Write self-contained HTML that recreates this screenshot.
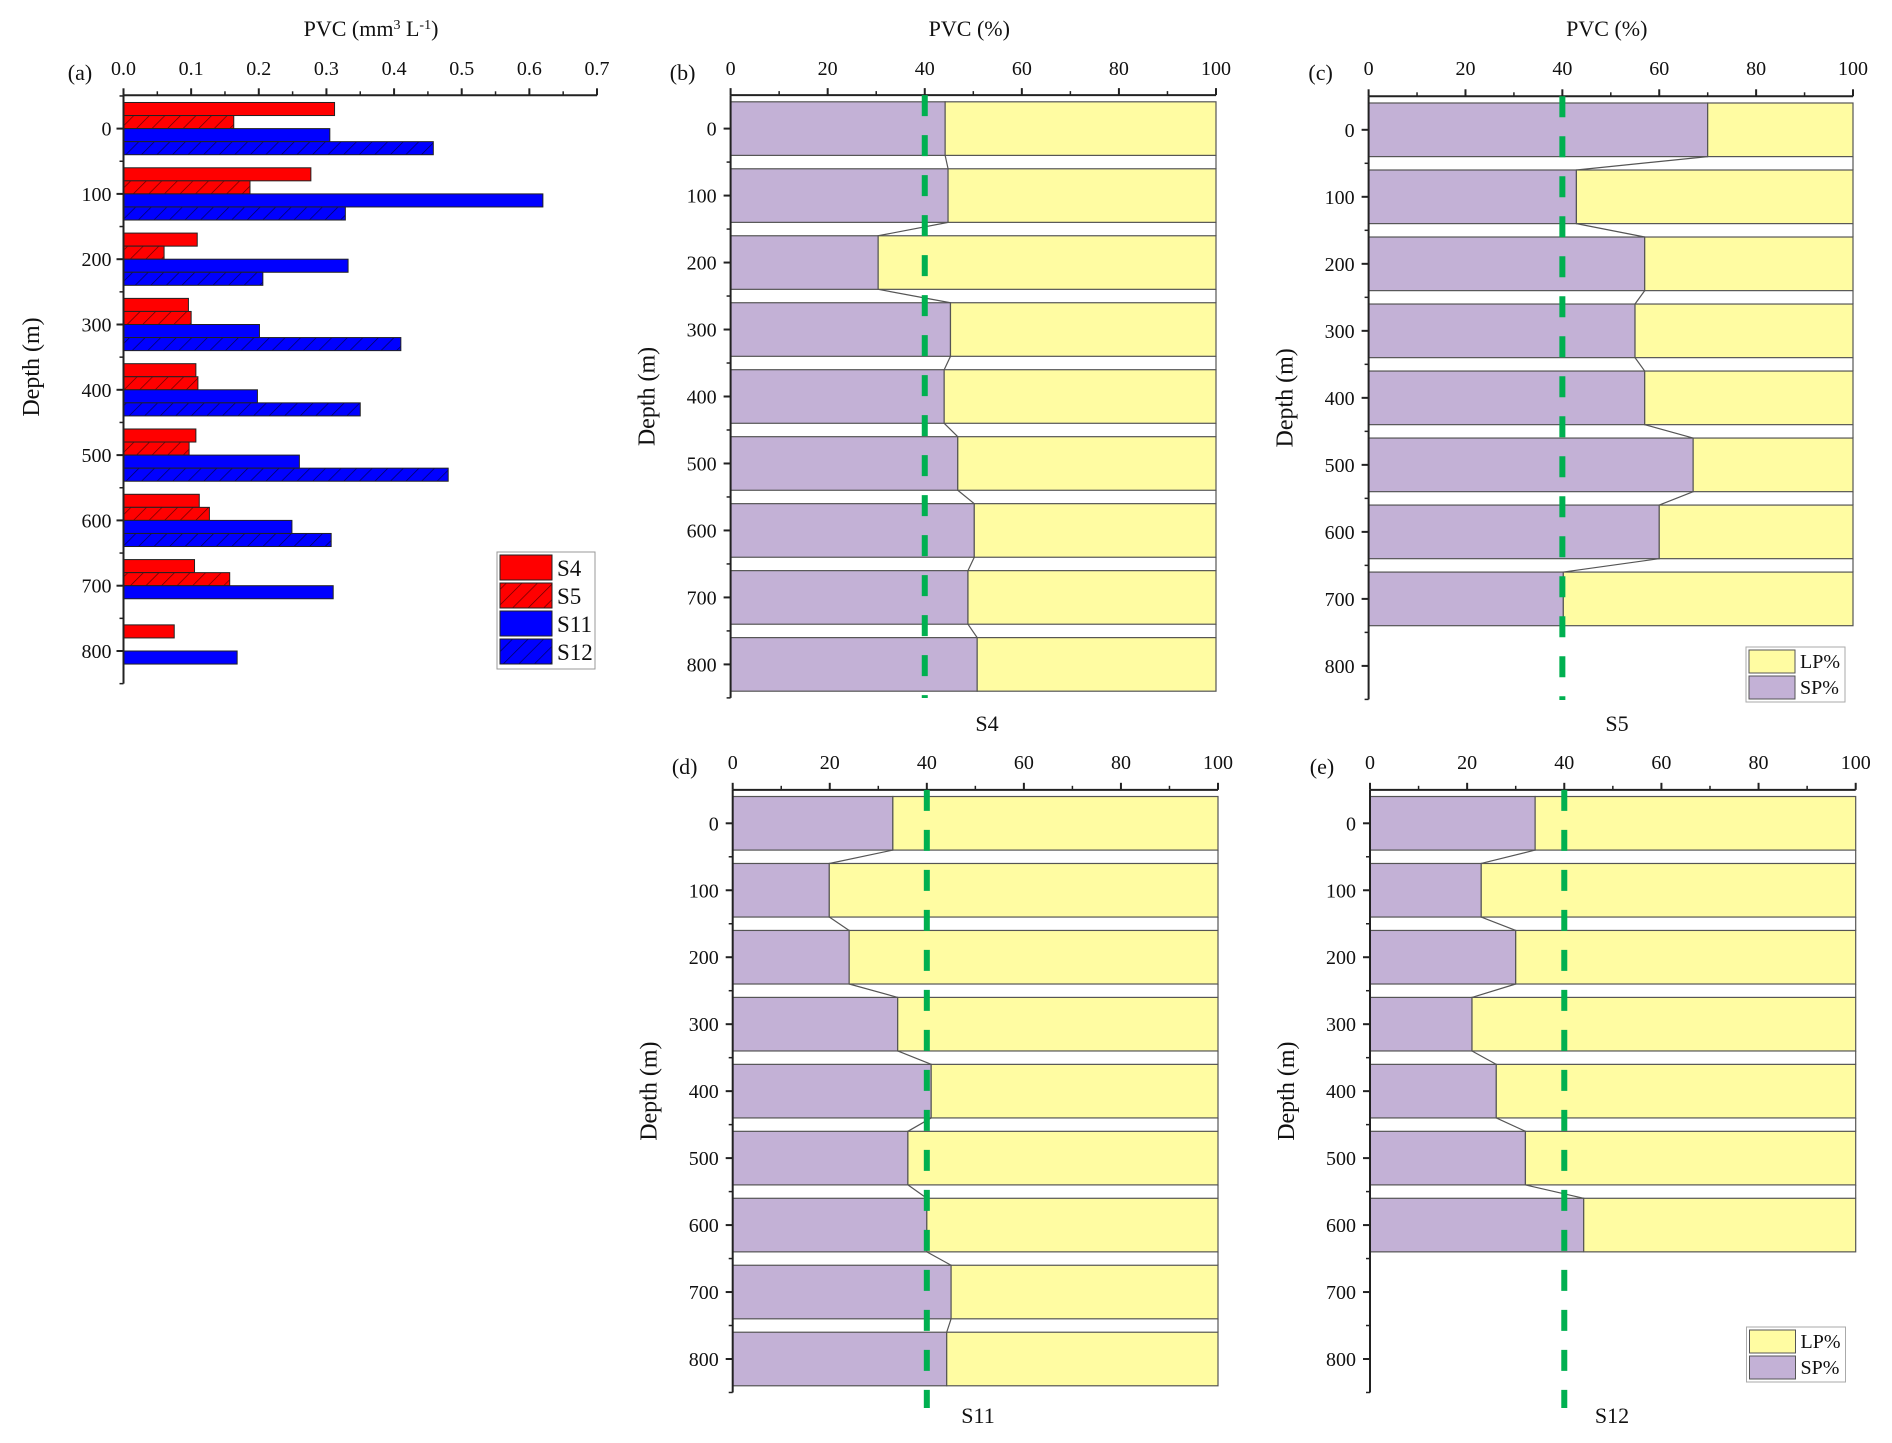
<!DOCTYPE html>
<html><head><meta charset="utf-8">
<style>
html,body{margin:0;padding:0;background:#fff;}
svg{display:block;font-family:"Liberation Serif",serif;}
</style></head>
<body>
<svg id="fig" width="1892" height="1443" viewBox="0 0 1892 1443" xmlns="http://www.w3.org/2000/svg">
<defs>
<pattern id="hatchR" patternUnits="userSpaceOnUse" width="11" height="11" patternTransform="rotate(45)">
<rect width="11" height="11" fill="#ff0000"/><line x1="0" y1="0" x2="0" y2="11" stroke="#5a0000" stroke-width="1.3"/></pattern>
<pattern id="hatchB" patternUnits="userSpaceOnUse" width="11" height="11" patternTransform="rotate(45)">
<rect width="11" height="11" fill="#0000ff"/><line x1="0" y1="0" x2="0" y2="11" stroke="#000050" stroke-width="1.3"/></pattern>
</defs>
</svg>
<script>
// ---- Panel (a) data ----
const depthsA = [0,100,200,300,400,500,600,700,800];
const seriesNamesA = ["S4","S5","S11","S12"];
const valS4 = [0.312,0.277,0.109,0.096,0.107,0.107,0.112,0.105,0.075];
const valS5 = [0.163,0.187,0.060,0.100,0.110,0.097,0.127,0.157,null];
const valS11 = [0.305,0.620,0.332,0.201,0.198,0.260,0.249,0.310,0.168];
const valS12 = [0.458,0.328,0.206,0.410,0.350,0.480,0.307,null,null];
const ticksA = [0,0.1,0.2,0.3,0.4,0.5,0.6,0.7];
const tickLabelsA = ["0.0","0.1","0.2","0.3","0.4","0.5","0.6","0.7"];
const depthTicks = [0,100,200,300,400,500,600,700,800];
// ---- Panels (b)-(e) data: SP% values ----
const depthsS4 = [0,100,200,300,400,500,600,700,800];
const spS4 = [44.2,44.8,30.4,45.3,44.0,46.8,50.2,48.9,50.8];
const depthsS5 = [0,100,200,300,400,500,600,700];
const spS5 = [70.0,42.9,57.0,55.0,57.0,67.0,60.0,40.2];
const depthsS11 = [0,100,200,300,400,500,600,700,800];
const spS11 = [33.0,19.9,24.0,34.0,40.9,36.1,40.0,45.0,44.1];
const depthsS12 = [0,100,200,300,400,500,600];
const spS12 = [34.0,22.9,30.0,21.0,26.0,32.0,44.0];
const ticksPct = [0,20,40,60,80,100];
const thresholdPct = [40];

const NS="http://www.w3.org/2000/svg";
const svg=document.getElementById('fig');
function mk(tag,attrs,parent){const e=document.createElementNS(NS,tag);for(const k in attrs)e.setAttribute(k,attrs[k]);(parent||svg).appendChild(e);return e;}
function txt(s,x,y,size,anchor,parent){const t=mk('text',{x:x,y:y,'font-size':size,'text-anchor':anchor||'middle',fill:'#111'},parent);t.textContent=s;return t;}

// ---------- Panel (a) ----------
(function(){
  const g=mk('g',{});
  
  
  const X0=123.5, XPX=(597-123.5)/0.7;
  const Y0=128.6, YPX=(651-128.6)/800;
  const xs=v=>X0+v*XPX, ys=d=>Y0+d*YPX;
  const series=[valS4,valS5,valS11,valS12];
  const fills=["#ff0000","url(#hatchR)","#0000ff","url(#hatchB)"];
  const bh=20;
  depthsA.forEach((d,i)=>{
    series.forEach((s,k)=>{
      const v=s[i]; if(v==null) return;
      const top=d-40+k*bh;
      const r=mk('rect',{x:xs(0),y:ys(top),width:xs(v)-xs(0),height:ys(top+bh)-ys(top),fill:fills[k],stroke:'#222','stroke-width':1},g);
      
      
    });
  });
  const axTop=ys(-51), axBot=ys(850);
  mk('line',{x1:X0,y1:axTop,x2:xs(0.7),y2:axTop,stroke:'#222','stroke-width':2},g);
  mk('line',{x1:X0,y1:axTop,x2:X0,y2:axBot,stroke:'#222','stroke-width':2},g);
  ticksA.forEach((t,i)=>{
    mk('line',{x1:xs(t),y1:axTop,x2:xs(t),y2:axTop-7,stroke:'#222','stroke-width':2},g);
    if(i<ticksA.length-1) mk('line',{x1:xs(t+0.05),y1:axTop,x2:xs(t+0.05),y2:axTop-4,stroke:'#222','stroke-width':1.5},g);
    const l=txt(tickLabelsA[i],xs(t),75,20,'middle',g);
    
    
  });
  depthTicks.forEach(d=>{
    mk('line',{x1:X0,y1:ys(d),x2:X0-7,y2:ys(d),stroke:'#222','stroke-width':2},g);
    mk('line',{x1:X0,y1:ys(d+50),x2:X0-4,y2:ys(d+50),stroke:'#222','stroke-width':1.5},g);
    const l=txt(String(d),X0-12,ys(d)+7,20,'end',g);
    
    
  });
  mk('line',{x1:X0,y1:ys(-50),x2:X0-4,y2:ys(-50),stroke:'#222','stroke-width':1.5},g);
  const tt=mk('text',{x:371,y:36,'font-size':22,'text-anchor':'middle',fill:'#111'},g);
  tt.innerHTML='PVC (mm<tspan font-size="14" dy="-7">3</tspan><tspan dy="7"> L</tspan><tspan font-size="14" dy="-7">-1</tspan><tspan dy="7">)</tspan>';
  
  
  const pl=txt('(a)',80,80,22,'middle',g);
  
  
  const yt=txt('Depth (m)',0,0,24,'middle',g);
  yt.setAttribute('transform','translate(39,367) rotate(-90)');
  
  
  const lg=mk('g',{},g);
  
  
  mk('rect',{x:497,y:552,width:98,height:117,fill:'#fff',stroke:'#999','stroke-width':1},lg);
  const rowsY=[555,583,611,639];
  seriesNamesA.forEach((n,k)=>{
    const e=mk('g',{},lg);
    
    
    mk('rect',{x:500,y:rowsY[k],width:52,height:25,fill:fills[k],stroke:'#222','stroke-width':1},e);
    txt(n,557,rowsY[k]+21,23,'start',e);
  });
})();

// ---------- Panels (b)-(e) ----------
function pctPanel(cfg){
  const g=mk('g',{});
  
  
  const xs=v=>cfg.x0+v*(cfg.x1-cfg.x0)/100;
  const ys=d=>cfg.y0+d*(cfg.y800-cfg.y0)/800;
  const dep=cfg.depths, sp=cfg.sp;
  dep.forEach((d,i)=>{
    const t=ys(d-40), b=ys(d+40);
    const r1=mk('rect',{x:xs(0),y:t,width:xs(sp[i])-xs(0),height:b-t,fill:'#c3b1d6',stroke:'#555','stroke-width':1.2},g);
    
    
    const r2=mk('rect',{x:xs(sp[i]),y:t,width:xs(100)-xs(sp[i]),height:b-t,fill:'#fffca2',stroke:'#555','stroke-width':1.2},g);
    
    
    if(i<dep.length-1){
      const c=mk('line',{x1:xs(sp[i]),y1:b,x2:xs(sp[i+1]),y2:ys(dep[i+1]-40),stroke:'#555','stroke-width':1.2},g);
      
      
      mk('line',{x1:xs(100),y1:b,x2:xs(100),y2:ys(dep[i+1]-40),stroke:'#555','stroke-width':1.2},g);
    }
  });
  const axTop=ys(-50), axBot=ys(850);
  mk('line',{x1:cfg.x0,y1:axTop,x2:xs(100),y2:axTop,stroke:'#222','stroke-width':2},g);
  mk('line',{x1:cfg.x0,y1:axTop,x2:cfg.x0,y2:axBot,stroke:'#222','stroke-width':2},g);
  ticksPct.forEach((t,i)=>{
    mk('line',{x1:xs(t),y1:axTop,x2:xs(t),y2:axTop-7,stroke:'#222','stroke-width':2},g);
    if(i<ticksPct.length-1) mk('line',{x1:xs(t+10),y1:axTop,x2:xs(t+10),y2:axTop-4,stroke:'#222','stroke-width':1.5},g);
    const l=txt(String(t),xs(t),cfg.labY,20,'middle',g);
    
    
  });
  depthTicks.forEach(d=>{
    mk('line',{x1:cfg.x0,y1:ys(d),x2:cfg.x0-7,y2:ys(d),stroke:'#222','stroke-width':2},g);
    mk('line',{x1:cfg.x0,y1:ys(d+50),x2:cfg.x0-4,y2:ys(d+50),stroke:'#222','stroke-width':1.5},g);
    const l=txt(String(d),cfg.x0-14,ys(d)+7,20,'end',g);
    
    
  });
  thresholdPct.forEach(v=>{
    const gl=mk('line',{x1:xs(v),y1:axTop,x2:xs(v),y2:cfg.greenEnd,stroke:'#00b050','stroke-width':6,'stroke-dasharray':'21 19'},g);
    
    
  });
  if(cfg.title){const t=txt('PVC (%)',(cfg.x0+xs(100))/2-4,36,22,'middle',g);
    
    }
  const pl=txt('('+cfg.id+')',cfg.x0-48,cfg.labY+5,22,'middle',g);
  
  
  const yt=txt('Depth (m)',0,0,24,'middle',g);
  yt.setAttribute('transform','translate('+(cfg.x0-76)+','+((cfg.y0+cfg.y800)/2)+') rotate(-90)');
  
  
  const cap=txt(cfg.caption,cfg.capX,cfg.capY,22,'middle',g);
  
  
  if(cfg.legend){
    const lg=mk('g',{},g);
    
    
    const L=cfg.legend;
    mk('rect',{x:L.x,y:L.y,width:99,height:55,fill:'#fff',stroke:'#aaa','stroke-width':1},lg);
    const e1=mk('g',{},lg);
    
    
    mk('rect',{x:L.x+3,y:L.y+3,width:46,height:23,fill:'#fffca2',stroke:'#555'},e1);
    txt('LP%',L.x+54,L.y+21,20,'start',e1);
    const e2=mk('g',{},lg);
    
    
    mk('rect',{x:L.x+3,y:L.y+29,width:46,height:23,fill:'#c3b1d6',stroke:'#555'},e2);
    txt('SP%',L.x+54,L.y+47,20,'start',e2);
  }
}
pctPanel({id:'b',x0:730.6,x1:1216,y0:128.6,y800:664.4,labY:75,greenEnd:698,depths:depthsS4,sp:spS4,title:true,caption:'S4',capX:987,capY:731});
pctPanel({id:'c',x0:1368.6,x1:1853,y0:129.8,y800:665.9,labY:75,greenEnd:700,depths:depthsS5,sp:spS5,title:true,caption:'S5',capX:1617,capY:731,legend:{x:1746,y:647}});
pctPanel({id:'d',x0:732.7,x1:1218,y0:823.3,y800:1359,labY:769,greenEnd:1408,depths:depthsS11,sp:spS11,title:false,caption:'S11',capX:978,capY:1423});
pctPanel({id:'e',x0:1370,x1:1855.7,y0:823.3,y800:1359,labY:769,greenEnd:1408,depths:depthsS12,sp:spS12,title:false,caption:'S12',capX:1612,capY:1423,legend:{x:1746.5,y:1327}});
</script>
</body></html>
